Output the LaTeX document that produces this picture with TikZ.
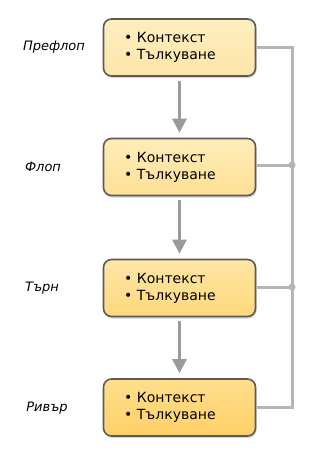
\documentclass[tikz,border=0pt]{standalone}
\usepackage{fontspec}
\setmainfont{DejaVu Sans}
\usetikzlibrary{shadows,arrows.meta}
\definecolor{bordc}{HTML}{5E5A5A}
\definecolor{linec}{HTML}{B5B5B5}
\definecolor{arrc}{HTML}{9A9A9A}
\tikzset{
  stagebox/.style={draw=bordc, line width=1.6pt, rounded corners=8pt,
    minimum width=152pt, minimum height=57pt, inner sep=0pt,
    drop shadow={opacity=0.35, shadow xshift=1pt, shadow yshift=-2pt}},
  boxtxt/.style={font=\fontsize{14}{17}\selectfont, align=left, anchor=west, inner sep=0pt},
  stagelbl/.style={font=\fontsize{13}{15}\selectfont\itshape, anchor=center},
  flowarr/.style={draw=arrc, line width=3pt, -{Triangle[width=14pt,length=14pt]}},
  sideln/.style={draw=linec, line width=3pt},
  jdot/.style={circle, fill=linec, inner sep=0pt, minimum size=7pt}
}
\begin{document}
\begin{tikzpicture}[x=1pt,y=-1pt]
\useasboundingbox (0,0) rectangle (327,466);
\newcommand{\bx}{\textbullet\ Контекст\\\textbullet\ Тълкуване}
\node[stagebox, top color={rgb,255:red,254;green,238;blue,192}, bottom color={rgb,255:red,253;green,229;blue,168}] (b1) at (179.5,47.5) {};
\node[stagebox, top color={rgb,255:red,254;green,236;blue,184}, bottom color={rgb,255:red,254;green,224;blue,150}] (b2) at (179.5,167) {};
\node[stagebox, top color={rgb,255:red,254;green,230;blue,164}, bottom color={rgb,255:red,255;green,216;blue,125}] (b3) at (179.5,288) {};
\node[stagebox, top color={rgb,255:red,255;green,222;blue,140}, bottom color={rgb,255:red,255;green,208;blue,104}] (b4) at (179.5,407.5) {};
\node[boxtxt] (t1) at (124,47.5) {\bx};
\node[boxtxt] (t2) at (124,167) {\bx};
\node[boxtxt] (t3) at (124,288) {\bx};
\node[boxtxt] (t4) at (124,407.5) {\bx};
\node[stagelbl] (l1) at (54,47.5) {Префлоп};
\node[stagelbl] (l2) at (43,167) {Флоп};
\node[stagelbl] (l3) at (42,288) {Търн};
\node[stagelbl] (l4) at (47,408) {Ривър};
\coordinate (c1) at (292,47.5);
\coordinate (c4) at (292,407.5);
\coordinate (j2) at (292,165);
\coordinate (j3) at (292,287);
\draw[sideln] (b1.east) -- (c1) -- (c4) -- (b4.east);
\draw[sideln] (b2.east |- j2) -- (j2);
\draw[sideln] (b3.east |- j3) -- (j3);
\node[jdot] at (j2) {};
\node[jdot] at (j3) {};
\draw[flowarr] ([yshift=-4pt]b1.south) -- ([yshift=5pt]b2.north);
\draw[flowarr] ([yshift=-4pt]b2.south) -- ([yshift=5pt]b3.north);
\draw[flowarr] ([yshift=-4pt]b3.south) -- ([yshift=5pt]b4.north);
\end{tikzpicture}
\end{document}
